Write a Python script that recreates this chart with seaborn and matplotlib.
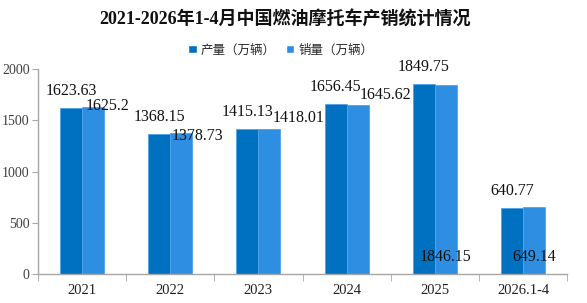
import numpy as np
import pandas as pd
import matplotlib
matplotlib.use("Agg")
import matplotlib.pyplot as plt
import seaborn as sns
from matplotlib.patches import Patch

# data
years = ["2021", "2022", "2023", "2024", "2025", "2026.1-4"]
production = [1623.63, 1368.15, 1415.13, 1656.45, 1849.75, 640.77]
sales = [1625.2, 1378.73, 1418.01, 1645.62, 1846.15, 649.14]
series_names = ["产量（万辆）", "销量（万辆）"]
prod_labels = ["1623.63", "1368.15", "1415.13", "1656.45", "1849.75", "640.77"]
sales_labels = ["1625.2", "1378.73", "1418.01", "1645.62", "1846.15", "649.14"]

df = pd.DataFrame({
    "year": years * 2,
    "value": production + sales,
    "series": [series_names[0]] * len(years) + [series_names[1]] * len(years),
})

sns.set_style("white")
plt.rcParams["font.family"] = ["Liberation Serif", "Noto Sans CJK SC", "DejaVu Sans"]

dark = "#0070C0"
light = "#2E8EE2"

fig = plt.figure(figsize=(5.87, 3.03), dpi=100)
ax = fig.add_axes([0.0647, 0.0957, 0.9013, 0.6763])

sns.barplot(
    data=df, x="year", y="value", hue="series",
    palette=[dark, light], width=0.5, saturation=1, ax=ax,
    edgecolor="#4FA3EC", linewidth=0.6, legend=False,
)

ax.set_ylim(0, 2000)
ax.set_xlim(-0.5, 5.5)
ax.set_yticks([0, 500, 1000, 1500, 2000])
ax.set_xlabel("")
ax.set_ylabel("")
for s in ["top", "right"]:
    ax.spines[s].set_visible(False)
for s in ["left", "bottom"]:
    ax.spines[s].set_color("#A6A6A6")
    ax.spines[s].set_linewidth(1.0)
ax.tick_params(axis="y", left=True, length=4, color="#A6A6A6", labelsize=10,
               labelcolor="#404040", pad=2)
ax.tick_params(axis="x", bottom=False, labelsize=10.5, labelcolor="#202020", pad=4)
# category boundary ticks on the x axis
ax.set_xticks(np.arange(-0.5, 6.0, 1.0), minor=True)
ax.tick_params(axis="x", which="minor", bottom=True, length=5, color="#A6A6A6")

# value labels
bars = ax.patches
prod_bars = bars[:len(years)]
sales_bars = bars[len(years):2 * len(years)]
for b, t in zip(prod_bars, prod_labels):
    ax.annotate(t, (b.get_x() + b.get_width() / 2, b.get_height()),
                xytext=(0, 17), textcoords="offset pixels",
                ha="center", va="center", fontsize=11.5, color="#111111")

# sales labels sit at irregular spots in the original
sales_offsets = [(14, 1), (16, -3), (29, 11), (28, 10), (0, None), (0, None)]
for b, t, (dx, dy) in zip(sales_bars, sales_labels, sales_offsets):
    cx = b.get_x() + b.get_width() / 2
    if dy is None:
        ax.annotate(t, (cx, 0), xytext=(dx, 17), textcoords="offset pixels",
                    ha="center", va="center", fontsize=11.5, color="#111111")
    else:
        ax.annotate(t, (cx, b.get_height()), xytext=(dx, dy), textcoords="offset pixels",
                    ha="center", va="center", fontsize=11.5, color="#111111")

fig.text(0.485, 0.934, "2021-2026年1-4月中国燃油摩托车产销统计情况",
         ha="center", va="center", fontsize=13, fontweight="bold", color="#111111")

handles = [Patch(facecolor=dark), Patch(facecolor=light)]
fig.legend(handles, series_names, loc="center", bbox_to_anchor=(0.478, 0.835), ncol=2,
           frameon=False, handlelength=0.7, handleheight=0.7,
           handletextpad=0.3, columnspacing=0.8,
           prop={"family": ["Noto Sans CJK SC", "DejaVu Sans"], "size": 9})

fig.savefig("out.png", dpi=100)
